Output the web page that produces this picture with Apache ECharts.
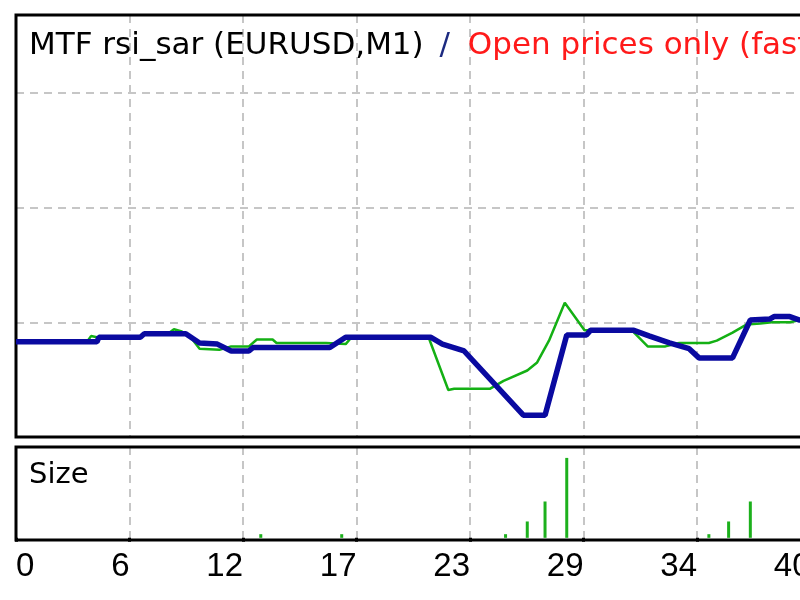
<!DOCTYPE html>
<html>
<head>
<meta charset="utf-8">
<script src="https://cdn.jsdelivr.net/npm/echarts@6/dist/echarts.min.js"></script>
<style>
  html, body { margin: 0; padding: 0; background: #fff; overflow: hidden; }
  #chart { width: 860px; height: 600px; }
</style>
</head>
<body>
<div id="chart"></div>
<script>
// tester graph: trade number on x, balance / equity on top, lot size below
// (the picture is a crop, so the chart runs on past the right edge)
var tickLabels = ['0', '6', '12', '17', '23', '29', '34', '40'];
var tickStep = 5.75;
var xMax = 41.54;

// [trade, balance]
var balance = [
  [0, 9783], [4.1, 9783], [4.2, 9787], [6.3, 9787], [6.5, 9790], [8.6, 9790],
  [9.3, 9782], [10.2, 9781], [10.9, 9775], [11.8, 9775], [12.0, 9778], [15.9, 9778],
  [16.7, 9787], [21.0, 9787], [21.6, 9781], [22.7, 9775], [25.7, 9719], [26.8, 9719],
  [27.9, 9789], [28.9, 9789], [29.1, 9793], [31.3, 9793], [32.1, 9788], [33.1, 9782],
  [34.1, 9777], [34.6, 9769], [36.3, 9769], [37.2, 9802], [38.2, 9803], [38.4, 9805],
  [39.2, 9805], [39.7, 9802], [40.6, 9802]
];

// [trade, equity]
var equity = [
  [0, 9783], [3.6, 9783], [3.8, 9788], [4.1, 9787], [6.3, 9787], [6.5, 9790],
  [7.7, 9790], [8.0, 9794], [8.4, 9792], [8.8, 9788], [9.3, 9777], [10.3, 9776],
  [10.9, 9779], [11.8, 9779], [12.2, 9785], [13.0, 9785], [13.2, 9782], [15.7, 9782],
  [16.7, 9781], [17.0, 9787], [20.9, 9787], [21.9, 9741], [22.2, 9742], [24.0, 9742],
  [24.7, 9749], [25.9, 9758], [26.4, 9765], [27.0, 9784], [27.8, 9817], [28.8, 9793],
  [31.2, 9793], [32.0, 9779], [32.9, 9779], [33.6, 9782], [35.1, 9782], [35.5, 9784],
  [36.3, 9791], [37.0, 9798], [37.7, 9799], [38.3, 9800], [39.2, 9800], [39.7, 9802],
  [40.6, 9802]
];

// [trade, lots]
var sizes = [
  [12.4, 0.1], [16.5, 0.1], [24.8, 0.1], [25.9, 0.45], [26.8, 1.0], [27.9, 2.2],
  [35.1, 0.1], [36.1, 0.45], [37.2, 1.0]
];

var FONT = '"DejaVu Sans", Verdana, sans-serif';
var FONT_NUM = '"Liberation Sans", Arial, sans-serif';
var gridDash = { color: '#c6c6c6', width: 2, type: [8, 6] };

function tickText(v) {
  var i = Math.round(v / tickStep);
  if (Math.abs(v - i * tickStep) > 0.01) return '';
  return tickLabels[i] || '';
}

var chart = echarts.init(document.getElementById('chart'));
chart.setOption({
  animation: false,
  backgroundColor: '#fff',
  title: [
    {
      left: 29, top: 30, padding: 0,
      text: '{a|MTF rsi_sar (EURUSD,M1)} {b|/} {c|Open prices only (fastest method to analyze the bar just completed)}',
      textStyle: {
        fontFamily: FONT, fontSize: 31, fontWeight: 'normal', color: '#000',
        rich: {
          a: { fontFamily: FONT, fontSize: 31, color: '#000' },
          b: { fontFamily: FONT, fontSize: 31, color: '#1c2a80', padding: [0, 8, 0, 6] },
          c: { fontFamily: FONT, fontSize: 31, color: '#ff1a1a' }
        }
      }
    },
    {
      left: 29, top: 461, padding: 0, text: 'Size',
      textStyle: { fontFamily: FONT, fontSize: 29, fontWeight: 'normal', color: '#000' }
    }
  ],
  grid: [
    { left: 16, top: 15, width: 820, height: 422, show: true, borderColor: '#000', borderWidth: 3, z: 3 },
    { left: 16, top: 447, width: 820, height: 93, show: true, borderColor: '#000', borderWidth: 3, z: 3 }
  ],
  xAxis: [
    {
      gridIndex: 0, type: 'value', min: 0, max: xMax, interval: tickStep,
      axisLine: { show: false }, axisTick: { show: false }, axisLabel: { show: false },
      splitLine: { show: true, showMinLine: false, showMaxLine: false, lineStyle: gridDash }
    },
    {
      gridIndex: 1, type: 'value', min: 0, max: xMax, interval: tickStep,
      axisLine: { show: false },
      axisTick: { show: true, length: 4, lineStyle: { color: '#000', width: 3 } },
      axisLabel: {
        show: true, formatter: tickText, align: 'right', alignMinLabel: 'left',
        margin: 10, fontFamily: FONT_NUM, fontSize: 33, color: '#000'
      },
      splitLine: { show: true, showMinLine: false, showMaxLine: false, lineStyle: gridDash }
    }
  ],
  yAxis: [
    {
      gridIndex: 0, type: 'value', min: 9700, max: 10068, interval: 100,
      axisLine: { show: false }, axisTick: { show: false }, axisLabel: { show: false },
      splitLine: { show: true, showMinLine: false, showMaxLine: false, lineStyle: gridDash }
    },
    {
      gridIndex: 1, type: 'value', min: -0.06, max: 2.5,
      axisLine: { show: false }, axisTick: { show: false }, axisLabel: { show: false },
      splitLine: { show: false }
    }
  ],
  series: [
    {
      name: 'Equity', type: 'line', xAxisIndex: 0, yAxisIndex: 0, data: equity,
      showSymbol: false, lineStyle: { color: '#14b014', width: 2.5 }
    },
    {
      name: 'Balance', type: 'line', xAxisIndex: 0, yAxisIndex: 0, data: balance,
      showSymbol: false, lineStyle: { color: '#0a0aa0', width: 5.5 }
    },
    {
      name: 'Size', type: 'bar', xAxisIndex: 1, yAxisIndex: 1, data: sizes,
      barWidth: 3, itemStyle: { color: '#1cb01c' }
    }
  ]
});
</script>
</body>
</html>
